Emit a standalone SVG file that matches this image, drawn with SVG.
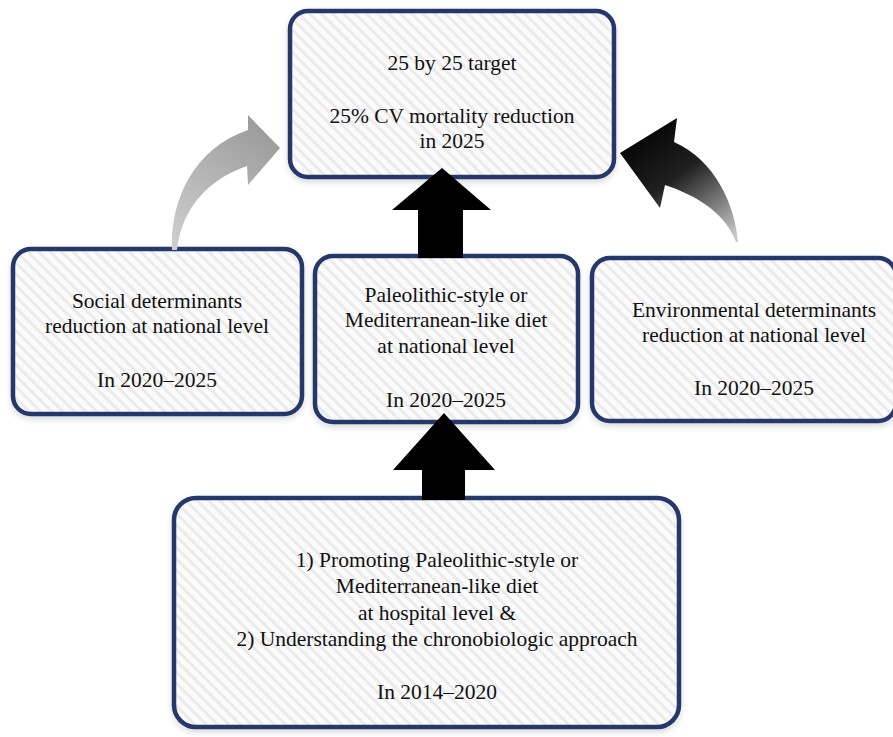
<svg xmlns="http://www.w3.org/2000/svg" width="893" height="737" viewBox="0 0 893 737">
<defs>
<pattern id="hatch" patternUnits="userSpaceOnUse" width="8" height="8" patternTransform="rotate(-45)">
<rect width="8" height="8" fill="#fbfbfb"/>
<rect width="3" height="8" fill="#ebebeb"/>
</pattern>
<linearGradient id="gGray" x1="0" y1="1" x2="0.6" y2="0">
<stop offset="0" stop-color="#d0d0d0"/>
<stop offset="1" stop-color="#9e9e9e"/>
</linearGradient>
<linearGradient id="gBlack" x1="0.9" y1="1" x2="0.2" y2="0">
<stop offset="0" stop-color="#c8c8c8"/>
<stop offset="0.55" stop-color="#202020"/>
<stop offset="1" stop-color="#000"/>
</linearGradient>
<filter id="sh" x="-10%" y="-10%" width="120%" height="125%">
<feGaussianBlur in="SourceAlpha" stdDeviation="3"/>
<feOffset dx="0" dy="3" result="b"/>
<feComponentTransfer><feFuncA type="linear" slope="0.15"/></feComponentTransfer>
<feMerge><feMergeNode/><feMergeNode in="SourceGraphic"/></feMerge>
</filter>
</defs>
<style>
.box{fill:url(#hatch);stroke:#27386b;stroke-width:4.5;filter:url(#sh)}
.t{font-family:"Liberation Serif","Times New Roman",serif;font-size:21.5px;fill:#111;text-anchor:middle}
</style>
<rect width="893" height="737" fill="#fff"/>

<g id="node-target">
<rect class="box" x="290" y="11" width="324" height="166" rx="18"/>
<text class="t" x="452" y="70">25 by 25 target</text>
<text class="t" x="452" y="123">25% CV mortality reduction</text>
<text class="t" x="452" y="148">in 2025</text>
</g>

<g id="node-social">
<rect class="box" x="13" y="249" width="289" height="165" rx="18"/>
<text class="t" x="157" y="308">Social determinants</text>
<text class="t" x="157" y="333">reduction at national level</text>
<text class="t" x="157" y="387">In 2020–2025</text>
</g>

<g id="node-diet">
<rect class="box" x="315" y="256" width="263" height="166" rx="18"/>
<text class="t" x="446" y="302">Paleolithic-style or</text>
<text class="t" x="446" y="327">Mediterranean-like diet</text>
<text class="t" x="446" y="353">at national level</text>
<text class="t" x="446" y="407">In 2020–2025</text>
</g>

<g id="node-env">
<rect class="box" x="592" y="258" width="304" height="163" rx="18"/>
<text class="t" x="754" y="317">Environmental determinants</text>
<text class="t" x="754" y="342">reduction at national level</text>
<text class="t" x="754" y="395">In 2020–2025</text>
</g>

<g id="node-hospital">
<rect class="box" x="174" y="498" width="505" height="229" rx="22"/>
<text class="t" x="437" y="567">1) Promoting Paleolithic-style or</text>
<text class="t" x="437" y="593">Mediterranean-like diet</text>
<text class="t" x="437" y="620">at hospital level &amp;</text>
<text class="t" x="437" y="646">2) Understanding the chronobiologic approach</text>
<text class="t" x="437" y="699">In 2014–2020</text>
</g>

<g id="connectors">
<polygon points="418,258 463,258 463,210 491,210 442,168 392,210 418,210" fill="#000"/>
<polygon points="422,500 465,500 465,470 495,470 444,413 393,470 422,470" fill="#000"/>
<path d="M172,250 C170,205 190,150 248,130 L248,115 L280,148 L248,185 L247,166 C212,178 182,205 177,250 Z" fill="url(#gGray)"/>
<path d="M738,242 C735,205 715,160 674,142 L677,118 L620,153 L660,208 L665,185 C695,195 725,212 736,242 Z" fill="url(#gBlack)"/>
</g>
</svg>
